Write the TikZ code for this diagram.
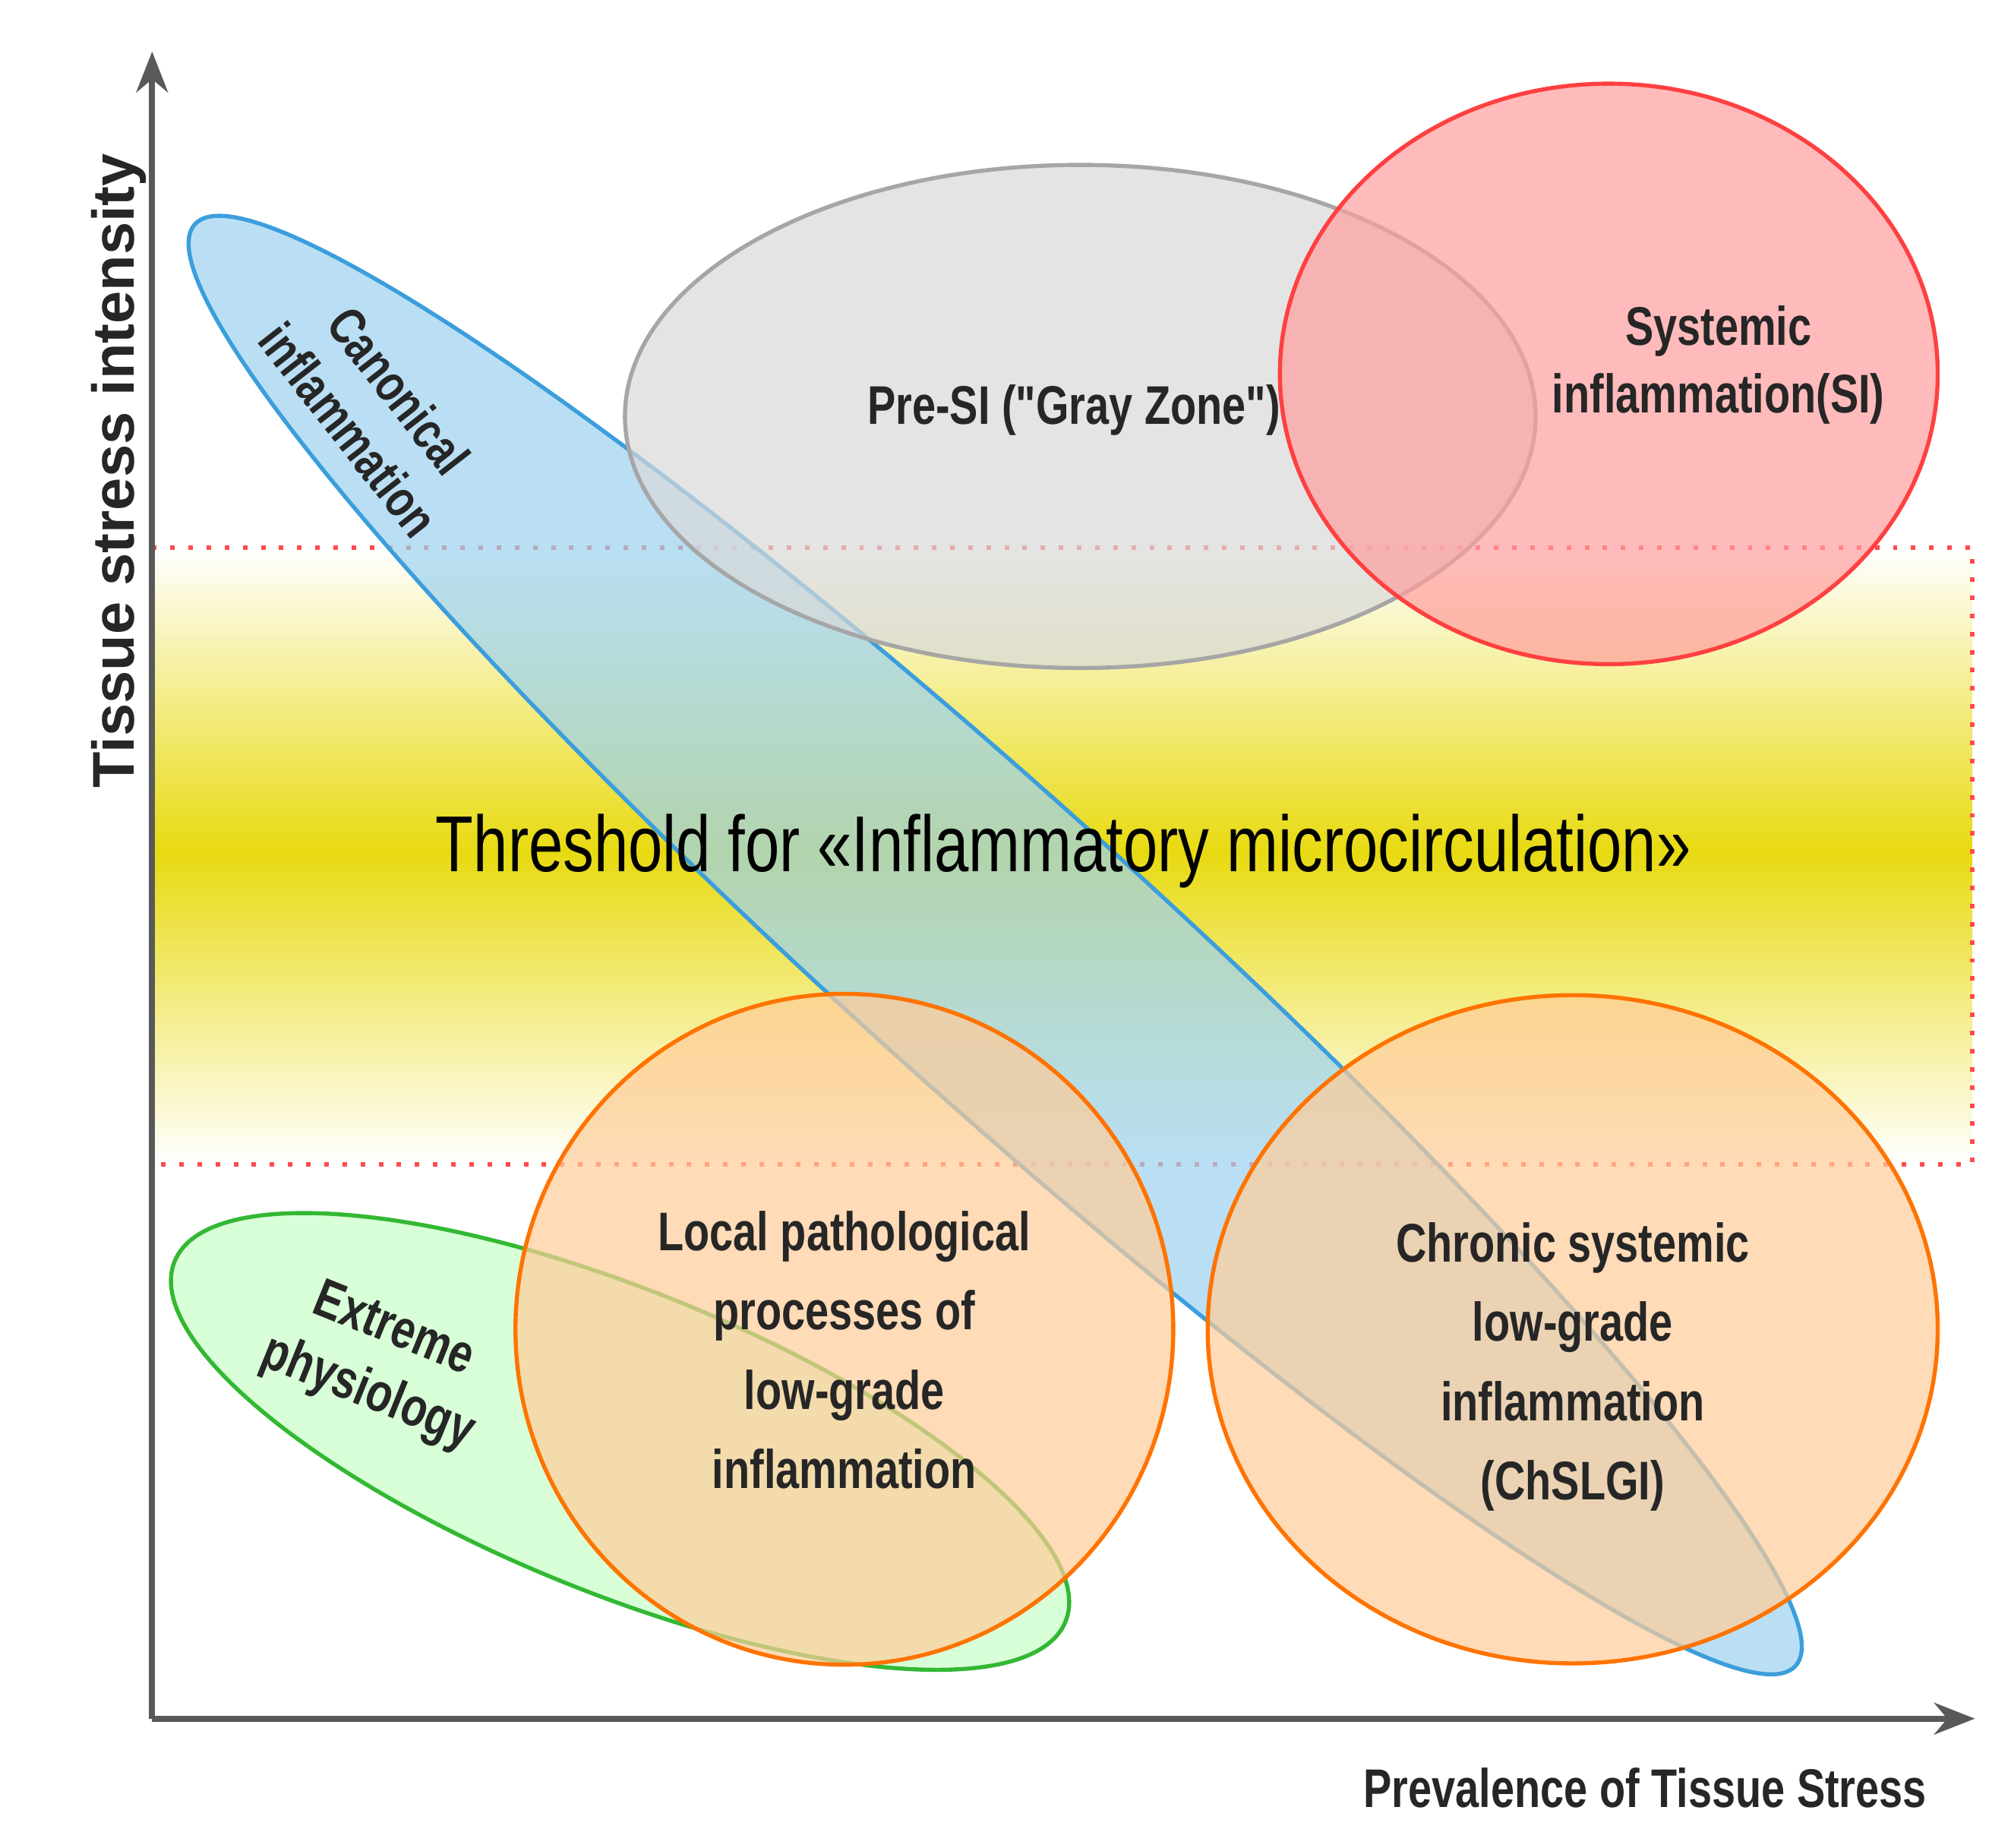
\documentclass[tikz,border=0pt]{standalone}
\usepackage{fontspec}
\setmainfont{Liberation Sans}
\newfontfamily\cond[FakeStretch=0.78]{Liberation Sans}
\usetikzlibrary{shapes.geometric,arrows.meta}
\definecolor{bandyel}{HTML}{E8DA10}
\definecolor{bluef}{HTML}{9CD2F0}
\definecolor{blued}{HTML}{3C9EDC}
\begin{document}
\begin{tikzpicture}[x=0.01cm,y=-0.01cm,
  blob/.style={ellipse,draw,line width=0.9pt,fill opacity=0.7,inner sep=0pt},
  lab/.style={font=\cond\bfseries\fontsize{12}{15}\selectfont,align=center,text=black!85},
  ax/.style={draw=black!65,line width=1.3pt,-{Stealth[length=9pt,width=7pt]}},
  thr/.style={draw=red!70,line width=1pt,dash pattern=on 1pt off 3pt}]
\useasboundingbox (0,0) rectangle (1560,1433);
% threshold band
\shade[top color=white,bottom color=bandyel] (118,425) rectangle (1530,662);
\shade[top color=bandyel,bottom color=white] (118,660) rectangle (1530,903);
\coordinate (t1) at (118,425); \coordinate (t2) at (1530,425);
\coordinate (t3) at (1530,903); \coordinate (t4) at (118,903);
\draw[thr] (t1) -- (t2) -- (t3) -- (t4);
% ellipses
\node[blob,fill=bluef,draw=blued,minimum width=16.7cm,minimum height=2.3cm,rotate=-42] (canon) at (772,733) {};
\node[blob,fill=black!15,draw=black!35,minimum width=7.06cm,minimum height=3.9cm] (gray) at (838,323) {};
\node[blob,fill=red!38,draw=red!75,minimum width=5.1cm,minimum height=4.5cm] (si) at (1248,290) {};
\node[blob,fill=green!22,draw=green!65!black!80,minimum width=7.45cm,minimum height=2.35cm,rotate=-22] (ext) at (481,1118) {};
\node[blob,fill=orange!40,draw=orange!90!red,minimum width=5.1cm,minimum height=5.2cm] (loc) at (655,1031) {};
\node[blob,fill=orange!40,draw=orange!90!red,minimum width=5.66cm,minimum height=5.18cm] (chr) at (1220,1031) {};
% labels
\node[lab,font=\cond\bfseries\fontsize{11.5}{14}\selectfont] (tcanon) at (290,318) [rotate=-52] {Canonical\\inflammation};
\node[lab] (tgray) at (833,318) {Pre-SI ("Gray Zone")};
\node[lab] (tsi) at (1333,283) {Systemic\\inflammation(SI)};
\node[font=\cond\fontsize{17.5}{21}\selectfont] (tthr) at (825,660) {Threshold for «Inflammatory microcirculation»};
\node[lab] (text) at (295,1057) [rotate=-22] {Extreme\\physiology};
\node[lab,font=\cond\bfseries\fontsize{12}{17.5}\selectfont] (tloc) at (655,1047) {Local pathological\\processes of\\low-grade\\inflammation};
\node[lab,font=\cond\bfseries\fontsize{12}{17.5}\selectfont] (tchr) at (1220,1060) {Chronic systemic\\low-grade\\inflammation\\(ChSLGI)};
% axes
\coordinate (o) at (118,1333); \coordinate (ytop) at (118,40); \coordinate (xr) at (1532,1333);
\draw[ax] (o) -- (ytop);
\draw[ax] (o) -- (xr);
\node[font=\bfseries\fontsize{13}{16}\selectfont,rotate=90,text=black!85] (ylab) at (92,365) {Tissue stress intensity};
\node[lab,anchor=east] (xlab) at (1507,1387) {Prevalence of Tissue Stress};
\end{tikzpicture}
\end{document}
